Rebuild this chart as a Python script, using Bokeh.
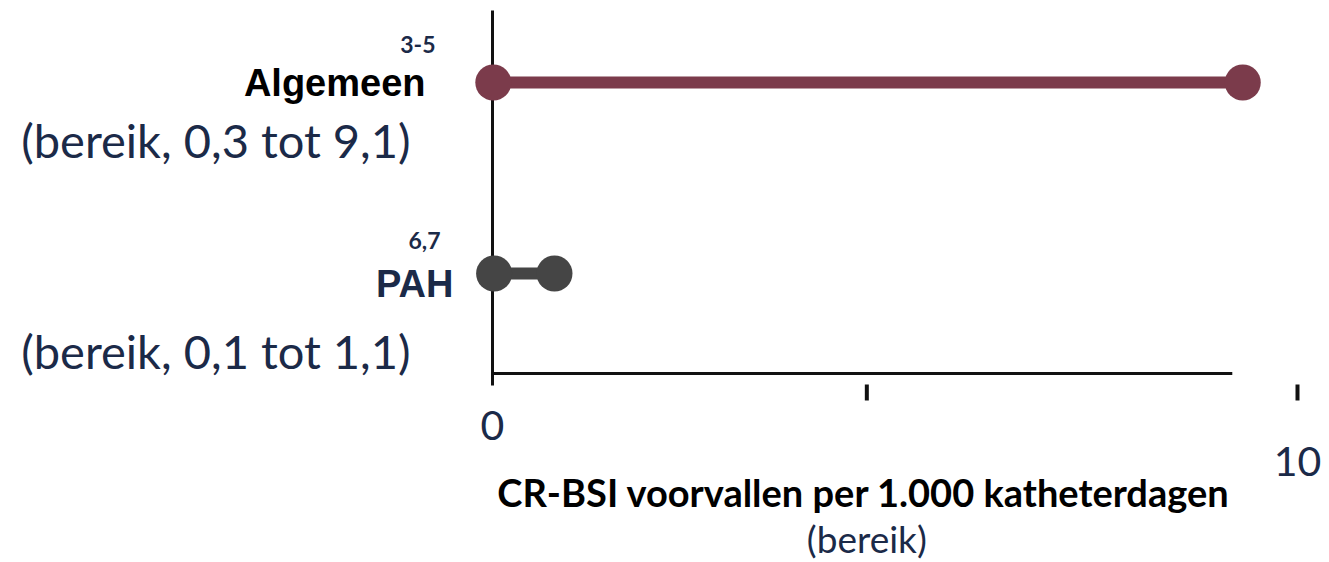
from bokeh.plotting import figure
from bokeh.models import Range1d, ColumnDataSource
from bokeh.core.properties import value
from bokeh.embed import file_html
from bokeh.resources import INLINE

# ---- data ----
categories = ["Algemeen", "PAH"]
references = ["3-5", "6,7"]
range_labels = ["(bereik, 0,3 tot 9,1)", "(bereik, 0,1 tot 1,1)"]
low_values = [0.01, 0.02]
high_values = [9.32, 0.77]
row_positions = [1, 0]
tick_values = [0, 4.65, 10]
tick_labels = ["0", "", "10"]
axis_extent = [0, 9.19]
x_title = "CR-BSI voorvallen per 1.000 katheterdagen"
x_subtitle = "(bereik)"

# ---- styles / layout ----
colors = ["#7B3B4B", "#454545"]
label_colors = ["#000000", "#1B2A48"]
label_dx = [-67, -39]
label_dy = [0, 10]
ref_dx = [-57, -52]
ref_dy = [-38, -33]
range_dx = [-82, -82]
range_dy = [57, 77]
navy = "#1B2A48"

W, H = 1329, 562
px_per_unit = 80.5
x0_px = 492
row_px = [82, 273]
py = (row_px[1] - row_px[0]) / (row_positions[0] - row_positions[1])  # px per y unit


def y_of(px):
    return (row_px[1] - px) / py


p = figure(width=W, height=H, output_backend="svg", toolbar_location=None,
           x_range=Range1d(-x0_px / px_per_unit, (W - x0_px) / px_per_unit),
           y_range=Range1d(y_of(H), y_of(0)),
           x_axis_location=None, y_axis_location=None, min_border=0,
           background_fill_color="white", border_fill_color="white")
p.grid.visible = False
p.outline_line_color = None

# axis lines
axis_y = y_of(373)
p.segment(x0=[0], y0=[y_of(385)], x1=[0], y1=[y_of(10)], line_color="#111111", line_width=3)
p.segment(x0=[axis_extent[0]], y0=[axis_y], x1=[axis_extent[1]], y1=[axis_y],
          line_color="#111111", line_width=3)
# ticks
tk = [t for t in tick_values if t != 0]
p.segment(x0=tk, y0=[y_of(384)] * len(tk), x1=tk, y1=[y_of(400)] * len(tk),
          line_color="#111111", line_width=4)
# tick labels
p.text(x=tick_values, y=[y_of(425), y_of(425), y_of(461)], text=tick_labels,
       text_font=value("Lato"), text_font_size="41px", text_color=navy,
       text_align="center", text_baseline="middle")

# dumbbells
src = ColumnDataSource(dict(cat=categories, ref=references, rng=range_labels,
                            lo=low_values, hi=high_values, y=row_positions,
                            color=colors, lcol=label_colors,
                            ldx=label_dx, ldy=label_dy, rdx=ref_dx, rdy=ref_dy,
                            gdx=range_dx, gdy=range_dy, zero=[0, 0]))
p.segment(x0="lo", y0="y", x1="hi", y1="y", line_color="color", line_width=12, source=src)
p.scatter(x="lo", y="y", size=36, fill_color="color", line_color=None, source=src)
p.scatter(x="hi", y="y", size=36, fill_color="color", line_color=None, source=src)

# category labels
p.text(x="zero", y="y", text="cat", x_offset="ldx", y_offset="ldy", source=src,
       text_font=value("Liberation Sans"), text_font_style="bold", text_font_size="38px",
       text_color="lcol", text_align="right", text_baseline="middle")
p.text(x="zero", y="y", text="ref", x_offset="rdx", y_offset="rdy", source=src,
       text_font=value("Lato"), text_font_style="bold", text_font_size="23px",
       text_color=navy, text_align="right", text_baseline="middle")
p.text(x="zero", y="y", text="rng", x_offset="gdx", y_offset="gdy", source=src,
       text_font=value("Lato"), text_font_size="47px",
       text_color=navy, text_align="right", text_baseline="middle")

# axis title
mid = tick_values[1]
p.text(x=[mid], y=[y_of(491)], text=[x_title], x_offset=-3, text_font=value("Lato"),
       text_font_style="bold", text_font_size="38px", text_color="#000000",
       text_align="center", text_baseline="middle")
p.text(x=[mid], y=[y_of(538)], text=[x_subtitle], text_font=value("Lato"),
       text_font_size="37px", text_color=navy,
       text_align="center", text_baseline="middle")

open("out.html", "w").write(file_html(p, INLINE))
